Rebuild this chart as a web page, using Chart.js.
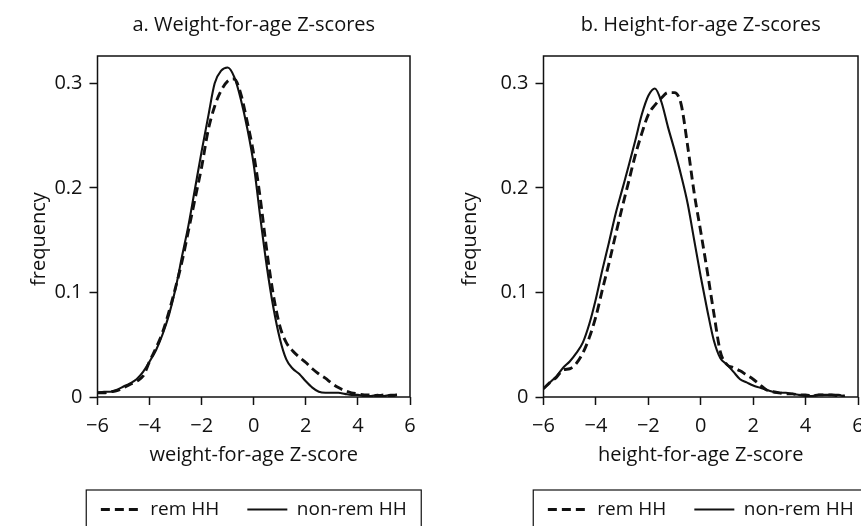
<!DOCTYPE html>
<html lang="en">
<head>
<meta charset="utf-8">
<style>
  html, body { margin: 0; padding: 0; background: #fff; }
  #wrap { position: relative; width: 861px; height: 526px; overflow: hidden; }
  .panel { position: absolute; top: 0; }
  #left { left: 0; }
  #right { left: 430px; }
</style>
</head>
<body>
<div id="wrap">
  <div class="panel" id="left"><canvas id="wazChart" width="430" height="526"></canvas></div>
  <div class="panel" id="right"><canvas id="hazChart" width="431" height="526"></canvas></div>
</div>
<script src="https://cdn.jsdelivr.net/npm/chart.js"></script>
<script>
// z-score grid shared by all four curves
const zGrid = [-6, -5.75, -5.5, -5.25, -5, -4.75, -4.5, -4.25, -4, -3.75, -3.5, -3.25,
  -3, -2.75, -2.5, -2.25, -2, -1.75, -1.5, -1.25, -1, -0.75, -0.5, -0.25,
  0, 0.25, 0.5, 0.75, 1, 1.25, 1.5, 1.75, 2, 2.25, 2.5, 2.75,
  3, 3.25, 3.5, 3.75, 4, 4.25, 4.5, 4.75, 5, 5.25, 5.5];

// a. weight-for-age
const wazRem = [0.004, 0.004, 0.005, 0.006, 0.009, 0.012, 0.015, 0.020, 0.034, 0.047, 0.062, 0.082,
  0.105, 0.130, 0.160, 0.190, 0.220, 0.255, 0.278, 0.293, 0.302, 0.304, 0.290, 0.263,
  0.232, 0.190, 0.140, 0.098, 0.068, 0.052, 0.044, 0.038, 0.033, 0.027, 0.022, 0.018,
  0.013, 0.009, 0.006, 0.004, 0.003, 0.002, 0.002, 0.001, 0.002, 0.001, 0.002];
const wazNonRem = [0.004, 0.005, 0.005, 0.007, 0.010, 0.013, 0.017, 0.024, 0.034, 0.045, 0.060, 0.079,
  0.104, 0.135, 0.165, 0.200, 0.235, 0.268, 0.300, 0.312, 0.315, 0.306, 0.285, 0.257,
  0.222, 0.172, 0.125, 0.086, 0.056, 0.036, 0.027, 0.022, 0.015, 0.009, 0.005, 0.004,
  0.004, 0.004, 0.003, 0.002, 0.002, 0.001, 0.001, 0.002, 0.001, 0.002, 0.002];

// b. height-for-age
const hazRem = [0.008, 0.014, 0.019, 0.026, 0.027, 0.032, 0.042, 0.057, 0.077, 0.103, 0.128, 0.155,
  0.181, 0.206, 0.231, 0.252, 0.270, 0.279, 0.286, 0.291, 0.291, 0.280, 0.240, 0.195,
  0.158, 0.120, 0.080, 0.043, 0.031, 0.028, 0.025, 0.021, 0.017, 0.012, 0.007, 0.005,
  0.004, 0.003, 0.003, 0.002, 0.002, 0.001, 0.002, 0.002, 0.002, 0.001, 0.001];
const hazNonRem = [0.008, 0.014, 0.020, 0.028, 0.034, 0.042, 0.052, 0.070, 0.094, 0.122, 0.148, 0.175,
  0.198, 0.221, 0.245, 0.270, 0.288, 0.295, 0.282, 0.258, 0.236, 0.212, 0.185, 0.150,
  0.115, 0.083, 0.054, 0.037, 0.031, 0.024, 0.017, 0.014, 0.011, 0.009, 0.007, 0.005,
  0.004, 0.004, 0.003, 0.002, 0.001, 0.001, 0.002, 0.002, 0.002, 0.002, 0.000];

const xTicks = [-6, -4, -2, 0, 2, 4, 6];
const yTicks = [0, 0.1, 0.2, 0.3];
const seriesLabels = ['rem HH', 'non-rem HH'];

Chart.defaults.font.family = "'Open Sans', 'Noto Sans', sans-serif";
Chart.defaults.color = '#111';

function toXY(xs, ys) {
  return xs.map((x, i) => ({ x: x, y: ys[i] }));
}

// box round the plot area and a frame round the legend
const framePlugin = {
  id: 'frame',
  afterLayout(chart) {
    const a = chart.chartArea;
    const cx = (a.left + a.right) / 2;
    // centre the legend row under the plot area
    chart.legend.left = cx - 215;
    chart.legend.right = cx + 215;
  },
  afterDraw(chart) {
    const ctx = chart.ctx;
    const a = chart.chartArea;
    ctx.save();
    ctx.strokeStyle = '#111';
    ctx.lineWidth = 1.5;
    ctx.strokeRect(a.left, a.top, a.right - a.left, a.bottom - a.top);
    const cx = (a.left + a.right) / 2;
    ctx.lineWidth = 1.2;
    ctx.strokeRect(cx - 167.5, chart.legend.top + 18, 335, 80);
    ctx.restore();
  }
};

function legendLabels(chart) {
  return Chart.defaults.plugins.legend.labels.generateLabels(chart).map(item => {
    const ds = chart.data.datasets[item.datasetIndex];
    item.lineDash = ds.borderDash || [];
    item.lineWidth = ds.borderWidth;
    item.strokeStyle = ds.borderColor;
    return item;
  });
}

function makeChart(id, title, xTitle, rem, nonRem, padLeft, padRight, yWidth) {
  const axisGrid = { drawOnChartArea: false, drawTicks: true, tickLength: 8, tickWidth: 1.5, tickColor: '#111' };
  return new Chart(document.getElementById(id), {
    type: 'line',
    data: {
      datasets: [
        { label: seriesLabels[0], data: toXY(zGrid, rem), borderColor: '#111', borderWidth: 2.9,
          borderDash: [9, 5], pointRadius: 0, cubicInterpolationMode: 'monotone', fill: false },
        { label: seriesLabels[1], data: toXY(zGrid, nonRem), borderColor: '#111', borderWidth: 2.1,
          pointRadius: 0, cubicInterpolationMode: 'monotone', fill: false }
      ]
    },
    options: {
      responsive: false,
      animation: false,
      layout: { padding: { left: padLeft, right: padRight, top: 0, bottom: -3 } },
      plugins: {
        title: { display: true, text: title, fullSize: false, color: '#111',
          font: { size: 20, weight: 'normal' }, padding: { top: 13, bottom: 19 } },
        legend: {
          position: 'bottom',
          labels: { usePointStyle: true, pointStyle: 'line', pointStyleWidth: 40,
            padding: 28, font: { size: 19 }, color: '#111', generateLabels: legendLabels }
        },
        tooltip: { enabled: false }
      },
      scales: {
        x: {
          type: 'linear', min: -6, max: 6,
          afterBuildTicks: s => { s.ticks = xTicks.map(v => ({ value: v })); },
          afterFit: s => { s.height = 75; s.paddingLeft = 0; s.paddingRight = 0; },
          grid: axisGrid,
          border: { display: false },
          ticks: { padding: 9, maxRotation: 0, font: { size: 20 }, color: '#111',
            callback: v => v < 0 ? '\u2212' + (-v) : String(v) },
          title: { display: true, text: xTitle, font: { size: 20 }, color: '#111', padding: { top: 0, bottom: 4.5 } }
        },
        y: {
          min: 0, max: 0.326,
          afterBuildTicks: s => { s.ticks = yTicks.map(v => ({ value: v })); },
          afterFit: s => { s.width = yWidth; },
          grid: axisGrid,
          border: { display: false },
          ticks: { padding: 7, font: { size: 20 }, color: '#111',
            callback: v => String(+v.toFixed(1)) },
          title: { display: true, text: 'frequency\u2002\u2002 ', font: { size: 20 }, color: '#111', padding: 0 }
        }
      }
    },
    plugins: [framePlugin]
  });
}

makeChart('wazChart', 'a. Weight-for-age Z-scores', 'weight-for-age Z-score', wazRem, wazNonRem, 27, 20, 70.5);
makeChart('hazChart', 'b. Height-for-age Z-scores', 'height-for-age Z-score', hazRem, hazNonRem, 28, 3, 85.5);
</script>
</body>
</html>
